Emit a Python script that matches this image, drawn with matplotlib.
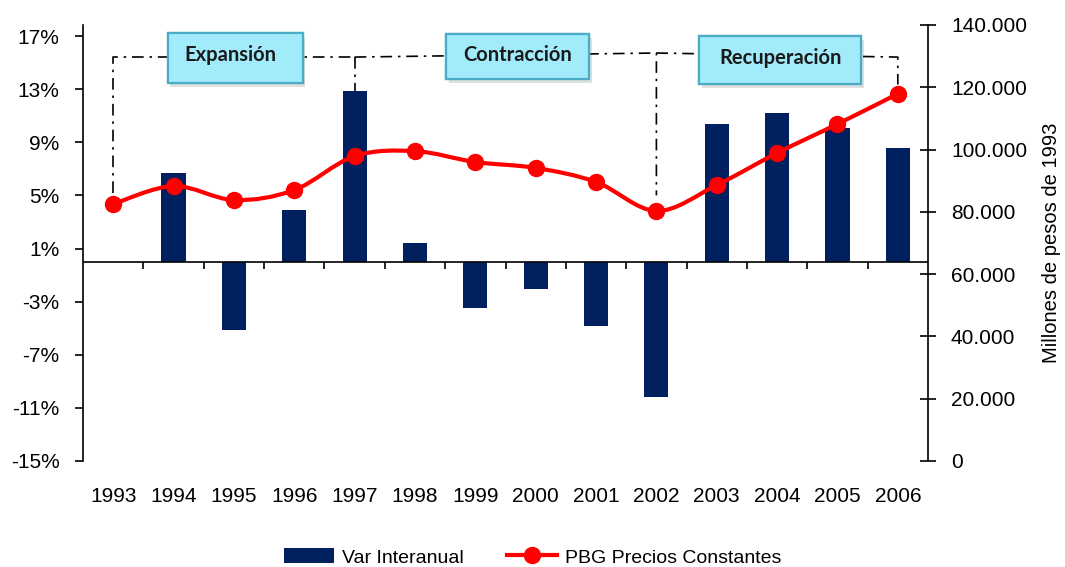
import numpy as np
import matplotlib
matplotlib.use("Agg")
import matplotlib.pyplot as plt
from matplotlib.patches import Rectangle, PathPatch
from matplotlib.path import Path
from matplotlib.lines import Line2D
import matplotlib.patheffects as pe

# datos
anios = ["1993", "1994", "1995", "1996", "1997", "1998", "1999", "2000",
         "2001", "2002", "2003", "2004", "2005", "2006"]
var_interanual = [0.0, 6.7, -5.1, 3.9, 12.85, 1.4, -3.5, -2.05,
                  -4.8, -10.2, 10.35, 11.2, 10.05, 8.55]          # %
pbg = [82500, 88300, 83800, 87000, 97900, 99500, 96000, 94100,
       89600, 80300, 88600, 98900, 108200, 117900]                 # millones $ 1993
pct_ticks = [-15, -11, -7, -3, 1, 5, 9, 13, 17]
pbg_ticks = [0, 20000, 40000, 60000, 80000, 100000, 120000, 140000]
etapas = ["Expansión", "Contracción", "Recuperación"]

NAVY = "#002060"; ROJO = "#ff0000"
LO1, HI1 = -15, 17.83
HI2 = 140000
FS = 15

plt.rcParams["font.family"] = ["Liberation Sans", "DejaVu Sans"]

fig = plt.figure(figsize=(10.65, 5.67), dpi=100)
ax = fig.add_axes([83 / 1065, 106 / 567, 845 / 1065, 436 / 567])
ax2 = ax.twinx()
x = np.arange(len(anios))

# barras
ax.bar(x, var_interanual, width=0.4, color=NAVY, zorder=2)
ax.set_xlim(-0.5, len(anios) - 0.5)
ax.set_ylim(LO1, HI1)
ax.set_yticks(pct_ticks)
ax.set_yticklabels([f"{t}%" for t in pct_ticks])
ax.axhline(0, color="black", lw=1.2, zorder=3)
ax.set_xticks(x)
ax.set_xticklabels(anios)
ax.tick_params(axis="x", length=0, pad=19, labelsize=FS)
ax.tick_params(axis="y", direction="out", length=6, width=1.2, pad=11, labelsize=FS)
for s in ("top", "bottom", "right"):
    ax.spines[s].set_visible(False)
ax.spines["left"].set_linewidth(1.2)

# marcas de la línea del cero entre categorías
zfrac = (0 - LO1) / (HI1 - LO1)
sec = ax.secondary_xaxis(zfrac)
sec.set_xticks(np.arange(0.5, len(anios) - 1, 1.0))
sec.tick_params(direction="out", length=5, width=1.2, labelbottom=False)
sec.spines["bottom"].set_visible(False)

# eje derecho
ax2.set_ylim(0, HI2)
ax2.set_yticks(pbg_ticks)
ax2.set_yticklabels([f"{t:,}".replace(",", ".") for t in pbg_ticks])
ax2.tick_params(axis="y", direction="inout", length=11, width=1.2, pad=11, labelsize=FS)
for s in ("top", "bottom", "left"):
    ax2.spines[s].set_visible(False)
ax2.spines["right"].set_linewidth(1.2)
ax2.set_ylabel("Millones de pesos de 1993", fontsize=14.5, labelpad=11)

# línea suavizada (Bezier tipo Excel)
pts = np.column_stack([x, pbg]).astype(float)
ext = np.vstack([pts[0], pts, pts[-1]])
verts = [pts[0]]; codes = [Path.MOVETO]
for i in range(len(pts) - 1):
    p0, p1, p2, p3 = ext[i], ext[i + 1], ext[i + 2], ext[i + 3]
    verts += [p1 + (p2 - p0) / 6, p2 - (p3 - p1) / 6, p2]
    codes += [Path.CURVE4] * 3
ax2.add_patch(PathPatch(Path(verts, codes), fill=False, edgecolor=ROJO, lw=3, zorder=4))
ax2.plot(x, pbg, "o", color=ROJO, ms=11.5, zorder=5)

# llaves de etapas (punteado)
def a_pesos(v):
    return (v - LO1) / (HI1 - LO1) * HI2

ls = (0, (7, 3.5, 1.5, 3.5))
kw = dict(color="black", lw=1.2, ls=ls, zorder=3)
i93, i97, i02, i06 = 0, 4, 9, 13
ax2.plot([i93, i93, i97], [pbg[i93] + 3600, 129700, 129700], **kw)
ax2.plot([i97, i97], [129700, a_pesos(var_interanual[i97])], **kw)
ax2.plot([i97, i02, i02], [129700, 131000, pbg[i02] + 5000], **kw)
ax2.plot([i02, i06, i06], [131000, 129700, pbg[i06] + 3000], **kw)

# cajas
cajas = [(0.903, 13.48, 2.237, 3.72), (5.51, 13.74, 2.37, 3.41), (9.71, 13.39, 2.68, 3.63)]
centros = [(1.935, 15.57), (6.70, 15.57), (11.06, 15.35)]
for (bx, by, bw, bh), (tx, ty), nombre in zip(cajas, centros, etapas):
    r = Rectangle((bx, by), bw, bh, transform=ax.transData, facecolor="#a2ebfb",
                  edgecolor="#4bacc6", lw=1.6, zorder=6,
                  path_effects=[pe.withSimplePatchShadow(offset=(2, -3), alpha=0.18,
                                                         shadow_rgbFace="#555555"),
                                pe.Normal()])
    ax2.add_artist(r)
    ax2.text(tx, ty, nombre, transform=ax.transData, ha="center", va="center",
             fontsize=14.5, fontweight="bold", family=["Lato", "DejaVu Sans"],
             color="#1a1a1a", zorder=7)

# leyenda
h1 = Rectangle((0, 0), 1, 1, facecolor=NAVY)
h2 = Line2D([], [], color=ROJO, lw=3, marker="o", ms=11.5)
fig.legend([h1, h2], ["Var Interanual", "PBG Precios Constantes"], loc="lower center",
           bbox_to_anchor=(0.5, -0.03), ncol=2, frameon=False, fontsize=14,
           handlelength=2.6, handleheight=0.8, columnspacing=2.2, handletextpad=0.4)

fig.savefig("out.png", dpi=100)
